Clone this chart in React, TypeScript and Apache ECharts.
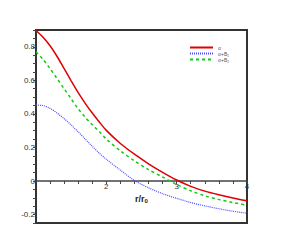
import React, { useEffect, useRef } from "react";
import * as echarts from "echarts";

const rValues = [1.0, 1.1, 1.2, 1.3, 1.4, 1.5, 1.6, 1.7, 1.8, 1.9, 2.0, 2.2, 2.4, 2.6, 2.8, 3.0, 3.2, 3.4, 3.6, 3.8, 4.0];
const sigma = [0.897, 0.857, 0.806, 0.742, 0.67, 0.597, 0.527, 0.463, 0.405, 0.352, 0.302, 0.224, 0.16, 0.103, 0.052, 0.006, -0.032, -0.06, -0.082, -0.101, -0.118];
const sigmaB1 = [0.452, 0.45, 0.433, 0.405, 0.372, 0.334, 0.293, 0.25, 0.207, 0.166, 0.13, 0.065, 0.003, -0.04, -0.075, -0.103, -0.128, -0.148, -0.165, -0.18, -0.192];
const sigmaB2 = [0.77, 0.725, 0.67, 0.61, 0.55, 0.49, 0.43, 0.38, 0.335, 0.295, 0.25, 0.18, 0.12, 0.068, 0.024, -0.02, -0.058, -0.088, -0.11, -0.128, -0.144];
const seriesNames = ["σ", "σ+B₁", "σ+B₂"];
const xTickLabels = [2, 3, 4];
const yTickLabels = [-0.2, 0, 0.2, 0.4, 0.6, 0.8];

const pair = (ys: number[]) => rValues.map((r, i) => [r, ys[i]]);

export default function App() {
  const ref = useRef<HTMLDivElement>(null);
  useEffect(() => {
    if (!ref.current) return;
    const chart = echarts.init(ref.current, null, { renderer: "svg" });
    const font = "Liberation Sans, Arial, sans-serif";
    chart.setOption({
      animation: false,
      backgroundColor: "#ffffff",
      textStyle: { fontFamily: font },
      grid: {
        left: 36,
        right: 35,
        top: 30,
        bottom: 28,
        show: true,
        borderColor: "#333333",
        borderWidth: 2,
        backgroundColor: "transparent",
      },
      legend: {
        orient: "vertical",
        left: 189,
        top: 45,
        itemWidth: 23,
        itemHeight: 5,
        itemGap: 1,
        padding: 0,
        itemStyle: { opacity: 0 },
        textStyle: { fontSize: 5, color: "#555", fontFamily: font },
        data: seriesNames,
      },
      xAxis: {
        type: "value",
        min: 1,
        max: 4,
        interval: 0.2,
        position: "bottom",
        offset: -42,
        name: "r/r{sub|0}",
        nameLocation: "middle",
        nameGap: 5,
        nameTextStyle: {
          fontSize: 9,
          fontWeight: "bold",
          color: "#222",
          rich: { sub: { fontSize: 6, fontWeight: "bold", verticalAlign: "bottom", padding: [3, 0, 0, 0] } },
        },
        axisLine: { show: true, onZero: false, lineStyle: { color: "#444", width: 1.5 } },
        axisTick: { show: true, inside: false, length: 3, lineStyle: { color: "#444" } },
        axisLabel: {
          fontSize: 8,
          color: "#333",
          margin: 1,
          showMinLabel: false,
          formatter: (v: number) => {
            const hit = xTickLabels.find((t) => Math.abs(t - v) < 1e-6);
            return hit !== undefined ? String(hit) : "";
          },
        },
        splitLine: { show: false },
      },
      yAxis: {
        type: "value",
        min: -0.25,
        max: 0.9,
        interval: 0.05,
        axisLine: { show: false },
        axisTick: { show: true, inside: false, length: 3, lineStyle: { color: "#444" } },
        axisLabel: {
          fontSize: 8,
          color: "#333",
          margin: 1,
          formatter: (v: number) => {
            const hit = yTickLabels.find((t) => Math.abs(t - v) < 1e-6);
            return hit !== undefined ? String(hit) : "";
          },
        },
        splitLine: { show: false },
      },
      series: [
        {
          name: seriesNames[0],
          type: "line",
          data: pair(sigma),
          smooth: 0.3,
          symbol: "none",
          lineStyle: { color: "#e00000", width: 1.5, type: "solid" },
          itemStyle: { color: "#e00000" },
        },
        {
          name: seriesNames[1],
          type: "line",
          data: pair(sigmaB1),
          smooth: 0.3,
          symbol: "none",
          lineStyle: { color: "#4b4bff", width: 1.2, type: [1, 1] },
          itemStyle: { color: "#4b4bff" },
        },
        {
          name: seriesNames[2],
          type: "line",
          data: pair(sigmaB2),
          smooth: 0.3,
          symbol: "none",
          lineStyle: { color: "#11cc11", width: 1.5, type: [3, 3] },
          itemStyle: { color: "#11cc11" },
        },
      ],
    });
    return () => chart.dispose();
  }, []);
  return (
    <div
      ref={ref}
      style={{ position: "fixed", left: 0, top: 0, width: 282, height: 251, background: "#fff" }}
    />
  );
}
